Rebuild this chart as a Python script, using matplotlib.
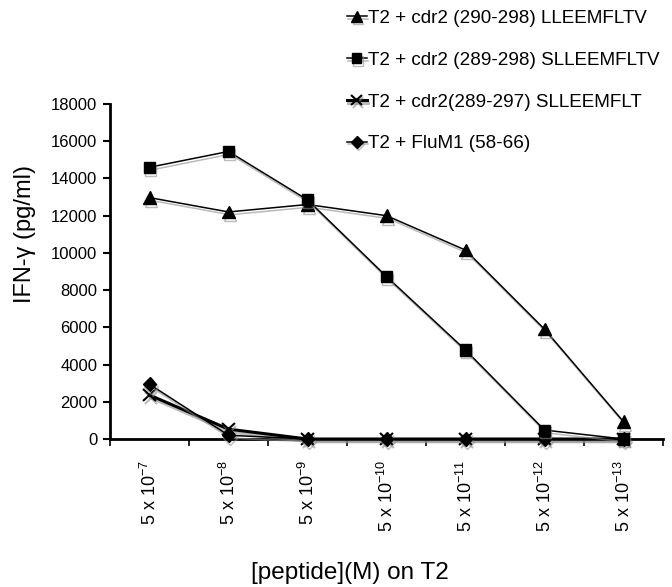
import matplotlib
matplotlib.use("Agg")
import matplotlib.pyplot as plt
import matplotlib.patheffects as pe
import numpy as np

plt.rcParams['font.family'] = ['Liberation Sans', 'DejaVu Sans']
plt.rcParams['mathtext.fontset'] = 'custom'
plt.rcParams['mathtext.rm'] = 'Liberation Sans'
plt.rcParams['mathtext.it'] = 'Liberation Sans'
plt.rcParams['mathtext.default'] = 'regular'

categories = [r'5 x 10$^{-7}$', r'5 x 10$^{-8}$', r'5 x 10$^{-9}$', r'5 x 10$^{-10}$',
              r'5 x 10$^{-11}$', r'5 x 10$^{-12}$', r'5 x 10$^{-13}$']
tri_vals = [12970, 12200, 12600, 12000, 10150, 5900, 930]
sq_vals = [14600, 15450, 12850, 8730, 4780, 480, 0]
x_vals = [2360, 530, 0, 0, 0, 0, 0]
dia_vals = [2940, 200, 0, 0, 0, 0, 0]
labels = ['T2 + cdr2 (290-298) LLEEMFLTV', 'T2 + cdr2 (289-298) SLLEEMFLTV',
          'T2 + cdr2(289-297) SLLEEMFLT', 'T2 + FluM1 (58-66)']
yticks = list(range(0, 18001, 2000))

fig = plt.figure(figsize=(6.72, 5.87), dpi=100)
ax = fig.add_axes([110/672, 1-439/587, 553/672, 335/587])

xpos = np.arange(len(categories))
shadow = [pe.SimpleLineShadow(offset=(1, -2), shadow_color='0.55', alpha=0.6), pe.Normal()]

h1, = ax.plot(xpos, tri_vals, color='black', lw=1.1, marker='^', ms=9, clip_on=False, path_effects=shadow, zorder=4)
h2, = ax.plot(xpos, sq_vals, color='black', lw=1.1, marker='s', ms=8, clip_on=False, path_effects=shadow, zorder=4)
h3, = ax.plot(xpos, x_vals, color='black', lw=2.2, marker='x', ms=9, mew=1.5, clip_on=False, path_effects=shadow, zorder=3)
h4, = ax.plot(xpos, dia_vals, color='black', lw=1.1, marker='D', ms=7, clip_on=False, path_effects=shadow, zorder=3)

ax.set_xlim(-0.5, 6.5)
ax.set_ylim(0, 18000)
ax.set_yticks(yticks)
ax.set_yticklabels([str(v) for v in yticks], fontsize=12)
ax.set_xticks(xpos)
ax.set_xticklabels(categories, rotation=90, fontsize=13, va='top', ha='center')
ax.set_xticks(np.arange(-0.5, 7.0, 1.0), minor=True)
ax.tick_params(axis='x', which='major', length=0, pad=15)
ax.tick_params(axis='x', which='minor', length=5, direction='out', width=1.2)
ax.tick_params(axis='y', length=5, width=1.5, direction='out', pad=4)

for s in ['top', 'right']:
    ax.spines[s].set_visible(False)
for s in ['left', 'bottom']:
    ax.spines[s].set_linewidth(2)

fig.text(25/672, 1-234/587, 'IFN-γ (pg/ml)', rotation=90, ha='center', va='center', fontsize=17)
fig.text(350/672, 1-573/587, '[peptide](M) on T2', ha='center', va='center', fontsize=17.5)

fig.legend([h1, h2, h3, h4], labels, loc='upper left', bbox_to_anchor=(343/672, 1-6/587),
           frameon=False, fontsize=13.6, handlelength=1.05, handletextpad=0.05,
           labelspacing=1.3, borderaxespad=0, borderpad=0.2, markerscale=0.85)

fig.savefig('out.png', dpi=100)
